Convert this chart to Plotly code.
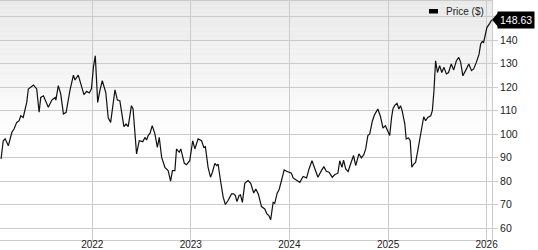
import plotly.graph_objects as go

dates = [
    "2021-01-28", "2021-02-05", "2021-02-12", "2021-02-24", "2021-03-09", "2021-03-17",
    "2021-03-27", "2021-04-05", "2021-04-11", "2021-04-20", "2021-05-03", "2021-05-09",
    "2021-05-28", "2021-06-09", "2021-06-18", "2021-06-24", "2021-07-04", "2021-07-22",
    "2021-08-04", "2021-08-16", "2021-08-19", "2021-08-28", "2021-09-06", "2021-09-16",
    "2021-09-26", "2021-10-10", "2021-10-23", "2021-10-29", "2021-11-10", "2021-11-22",
    "2021-12-01", "2021-12-11", "2021-12-21", "2021-12-29", "2022-01-05", "2022-01-12",
    "2022-01-21", "2022-01-29", "2022-02-07", "2022-02-20", "2022-03-01", "2022-03-10",
    "2022-03-26", "2022-04-04", "2022-04-13", "2022-04-28", "2022-05-06", "2022-05-14",
    "2022-05-26", "2022-06-01", "2022-06-14", "2022-06-24", "2022-07-07", "2022-07-15",
    "2022-07-21", "2022-07-27", "2022-08-03", "2022-08-11", "2022-08-21", "2022-08-30",
    "2022-09-06", "2022-09-15", "2022-09-27", "2022-10-09", "2022-10-18", "2022-10-25",
    "2022-11-03", "2022-11-09", "2022-11-19", "2022-11-25", "2022-12-08", "2022-12-16",
    "2022-12-28", "2023-01-08", "2023-01-16", "2023-01-28", "2023-02-10", "2023-02-18",
    "2023-02-24", "2023-03-06", "2023-03-15", "2023-03-22", "2023-03-31", "2023-04-07",
    "2023-04-12", "2023-04-21", "2023-05-01", "2023-05-09", "2023-05-19", "2023-06-01",
    "2023-06-09", "2023-06-15", "2023-06-21", "2023-06-29", "2023-07-04", "2023-07-11",
    "2023-07-20", "2023-08-01", "2023-08-11", "2023-08-22", "2023-08-30", "2023-09-08",
    "2023-09-20", "2023-10-02", "2023-10-10", "2023-10-17", "2023-10-24", "2023-11-02",
    "2023-11-08", "2023-11-17", "2023-11-24", "2023-12-03", "2023-12-13", "2023-12-22",
    "2023-12-31", "2024-01-09", "2024-01-15", "2024-01-27", "2024-02-09", "2024-02-21",
    "2024-03-05", "2024-03-14", "2024-03-25", "2024-04-05", "2024-04-16", "2024-04-29",
    "2024-05-08", "2024-05-17", "2024-05-27", "2024-06-08", "2024-06-17", "2024-06-29",
    "2024-07-06", "2024-07-14", "2024-07-20", "2024-07-28", "2024-08-06", "2024-08-15",
    "2024-08-26", "2024-09-03", "2024-09-15", "2024-09-24", "2024-10-03", "2024-10-10",
    "2024-10-18", "2024-10-25", "2024-11-04", "2024-11-12", "2024-11-24", "2024-12-04",
    "2024-12-13", "2024-12-22", "2024-12-29", "2025-01-07", "2025-01-14", "2025-01-19",
    "2025-01-25", "2025-02-03", "2025-02-10", "2025-02-16", "2025-02-22", "2025-03-04",
    "2025-03-09", "2025-03-18", "2025-03-24", "2025-03-30", "2025-04-06", "2025-04-13",
    "2025-04-21", "2025-04-30", "2025-05-13", "2025-05-20", "2025-05-28", "2025-06-08",
    "2025-06-14", "2025-06-20", "2025-06-26", "2025-07-03", "2025-07-11", "2025-07-19",
    "2025-07-27", "2025-08-05", "2025-08-13", "2025-08-23", "2025-09-01", "2025-09-11",
    "2025-09-20", "2025-09-27", "2025-10-05", "2025-10-15", "2025-10-27", "2025-11-06",
    "2025-11-14", "2025-11-24", "2025-12-04", "2025-12-10", "2025-12-16", "2025-12-21",
    "2025-12-27", "2026-01-02", "2026-01-12", "2026-01-20",
]

prices = [
    89.5, 97.2, 98.0, 95.1, 100.8, 102.2,
    105.0, 105.7, 107.8, 107.1, 113.5, 119.2,
    120.9, 119.2, 109.3, 115.6, 116.3, 111.4,
    114.5, 115.6, 114.5, 120.6, 117.1, 108.6,
    109.3, 118.5, 125.1, 123.0, 125.1, 119.9,
    116.8, 118.2, 117.5, 119.4, 128.4, 133.3,
    113.5, 118.5, 122.7, 117.7, 106.9, 105.0,
    118.8, 114.5, 114.2, 103.2, 104.3, 103.2,
    112.1, 110.7, 91.6, 97.2, 96.8, 98.6,
    97.5, 99.4, 100.4, 103.6, 100.1, 94.4,
    98.6, 90.1, 85.9, 84.5, 80.0, 84.5,
    84.5, 93.7, 92.3, 93.7, 87.6, 87.0,
    88.7, 97.2, 93.7, 98.0, 97.2, 94.4,
    94.7, 85.9, 81.7, 83.8, 87.6, 86.6,
    87.3, 80.3, 73.2, 70.1, 71.8, 74.6,
    74.6, 73.9, 71.3, 73.9, 74.2, 71.0,
    79.1, 80.3, 79.1, 75.0, 76.7, 74.6,
    69.2, 68.2, 66.1, 65.4, 63.6, 71.0,
    70.6, 74.9, 76.3, 80.3, 84.8, 84.2,
    83.8, 83.4, 81.4, 80.6, 79.5, 82.0,
    81.4, 85.2, 88.7, 85.2, 81.7, 84.5,
    86.2, 84.2, 83.8, 81.7, 82.7, 83.4,
    88.7, 85.9, 89.0, 85.2, 84.1, 87.3,
    90.9, 86.6, 91.6, 89.9, 91.3, 93.7,
    99.4, 100.1, 105.7, 108.3, 110.7, 107.4,
    102.6, 103.6, 101.8, 99.4, 107.1, 110.7,
    112.1, 113.1, 110.7, 112.1, 110.0, 104.3,
    98.0, 98.4, 97.2, 85.9, 87.3, 88.0,
    93.0, 98.6, 107.4, 105.7, 107.1, 107.8,
    110.0, 118.5, 131.2, 126.2, 129.1, 126.2,
    128.4, 125.6, 126.2, 129.8, 127.3, 131.2,
    132.6, 130.5, 124.8, 127.0, 129.8, 127.0,
    127.7, 130.5, 134.0, 138.3, 139.4, 139.0,
    142.5, 145.3, 147.0, 148.63,
]

series_name = "Price ($)"
last_label = "148.63"
y_tick_values = [60, 70, 80, 90, 100, 110, 120, 130, 140, 150]
y_tick_labels = ["60", "70", "80", "90", "100", "110", "120", "130", "140", ""]
x_range = ["2021-01-24", "2026-01-21"]
y_range = [55.0, 156.6]

FONT = "Liberation Sans, Arial, sans-serif"
GRID = "#cbcbcb"

fig = go.Figure()
fig.add_trace(go.Scatter(
    x=dates, y=prices, mode="lines",
    line=dict(color="#111111", width=1.2),
    name=series_name, showlegend=False, hoverinfo="skip",
))

# gradient background bands (top grey fading to white)
shapes = []
n_bands = 30
top, bottom = 1.0, 0.42
for i in range(n_bands):
    y1 = top - (top - bottom) * i / n_bands
    y0 = top - (top - bottom) * (i + 1) / n_bands
    g = int(round(233 + (255 - 233) * (i + 0.5) / n_bands))
    shapes.append(dict(
        type="rect", xref="paper", yref="paper", x0=0, x1=1, y0=y0, y1=y1,
        fillcolor=f"rgb({g},{g},{g})", line=dict(width=0), layer="below",
    ))

# legend swatch
shapes.append(dict(
    type="rect", xref="paper", yref="paper",
    x0=429.0 / 492.0, x1=438.0 / 492.0,
    y0=(240 - 13.5) / 239, y1=(240 - 9) / 239,
    fillcolor="#000000", line=dict(width=0), layer="above",
))

# arrow of the last value label
shapes.append(dict(
    type="path", xref="paper", yref="y",
    xsizemode="pixel", ysizemode="pixel",
    xanchor=1, yanchor=prices[-1],
    path="M 0,0 L 6,7 L 6,-7 Z",
    fillcolor="#000000", line=dict(width=0), layer="above",
))

annotations = [
    dict(
        text=series_name, xref="paper", yref="paper",
        x=443.5 / 492.0, y=(240 - 11.5) / 239,
        xanchor="left", yanchor="middle", showarrow=False,
        font=dict(family=FONT, size=10, color="#222222"),
    ),
    dict(
        text=last_label, xref="paper", yref="y",
        x=1, y=prices[-1], xshift=5,
        xanchor="left", yanchor="middle", showarrow=False,
        bgcolor="#000000", borderpad=2,
        font=dict(family=FONT, size=10.5, color="#ffffff"),
    ),
]

fig.update_layout(
    width=538, height=250,
    margin=dict(l=0, r=46, t=1, b=10, autoexpand=False),
    paper_bgcolor="#ffffff", plot_bgcolor="#ffffff",
    font=dict(family=FONT, size=10.5, color="#333333"),
    shapes=shapes, annotations=annotations,
    showlegend=False,
    xaxis=dict(
        type="date", range=x_range, automargin=False,
        dtick="M12", tick0="2022-01-01", tickformat="%Y",
        showgrid=True, gridcolor=GRID, gridwidth=1,
        showline=True, linecolor=GRID, linewidth=1, mirror=True,
        ticks="", ticklen=0, zeroline=False, ticklabelstandoff=-5,
        tickfont=dict(family=FONT, size=10, color="#222222"),
    ),
    yaxis=dict(
        range=y_range, side="right", automargin=False,
        tickvals=y_tick_values, ticktext=y_tick_labels,
        showgrid=True, gridcolor=GRID, gridwidth=1,
        showline=True, linecolor=GRID, linewidth=1, mirror=True,
        ticks="outside", ticklen=5, tickcolor=GRID, zeroline=False,
        tickfont=dict(family=FONT, size=10.5, color="#222222"),
    ),
)

fig.write_html("out.html")
